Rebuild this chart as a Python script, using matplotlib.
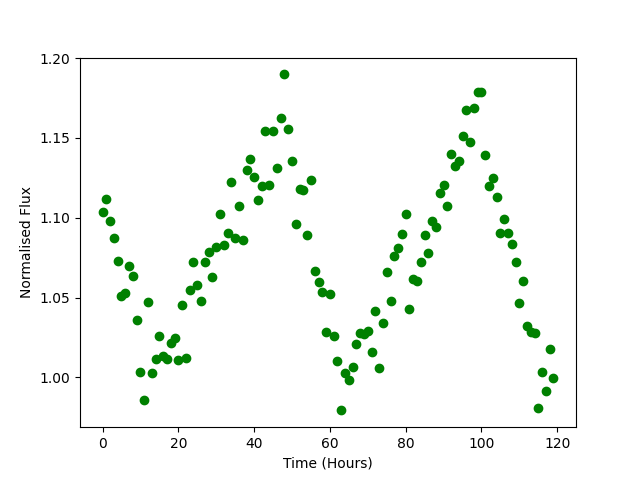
import numpy as np
import matplotlib
matplotlib.use("Agg")
from matplotlib import pyplot as plt

# time in hours, one reading per hour
time_hours = np.arange(0, 120)

# normalised flux
flux = [
    1.1033, 1.1120, 1.0978, 1.0870, 1.0727, 1.0512, 1.0527, 1.0700, 1.0638, 1.0362,
    1.0036, 0.9856, 1.0475, 1.0029, 1.0117, 1.0261, 1.0132, 1.0113, 1.0216, 1.0245,
    1.0107, 1.0456, 1.0121, 1.0550, 1.0725, 1.0577, 1.0481, 1.0725, 1.0784, 1.0627,
    1.0815, 1.1026, 1.0832, 1.0905, 1.1223, 1.0873, 1.1076, 1.0863, 1.1296, 1.1367,
    1.1257, 1.1110, 1.1197, 1.1542, 1.1202, 1.1542, 1.1310, 1.1622, 1.1898, 1.1559,
    1.1354, 1.0959, 1.1179, 1.1171, 1.0890, 1.1235, 1.0665, 1.0596, 1.0537, 1.0287,
    1.0525, 1.0261, 1.0100, 0.9793, 1.0027, 0.9986, 1.0067, 1.0211, 1.0280, 1.0270,
    1.0288, 1.0161, 1.0418, 1.0056, 1.0343, 1.0663, 1.0476, 1.0763, 1.0813, 1.0895,
    1.1026, 1.0431, 1.0614, 1.0606, 1.0723, 1.0890, 1.0776, 1.0978, 1.0939, 1.1158,
    1.1204, 1.1076, 1.1397, 1.1326, 1.1354, 1.1510, 1.1672, 1.1473, 1.1685, 1.1785,
    1.1785, 1.1390, 1.1196, 1.1252, 1.1133, 1.0907, 1.0989, 1.0907, 1.0838, 1.0725,
    1.0468, 1.0606, 1.0320, 1.0284, 1.0280, 0.9809, 1.0033, 0.9917, 1.0180, 0.9998,
]

plt.figure(figsize=(6.4, 4.8), dpi=100)
plt.plot(time_hours, flux, 'go')
plt.xlabel("Time (Hours)")
plt.ylabel("Normalised Flux")

plt.savefig("out.png", dpi=100)
